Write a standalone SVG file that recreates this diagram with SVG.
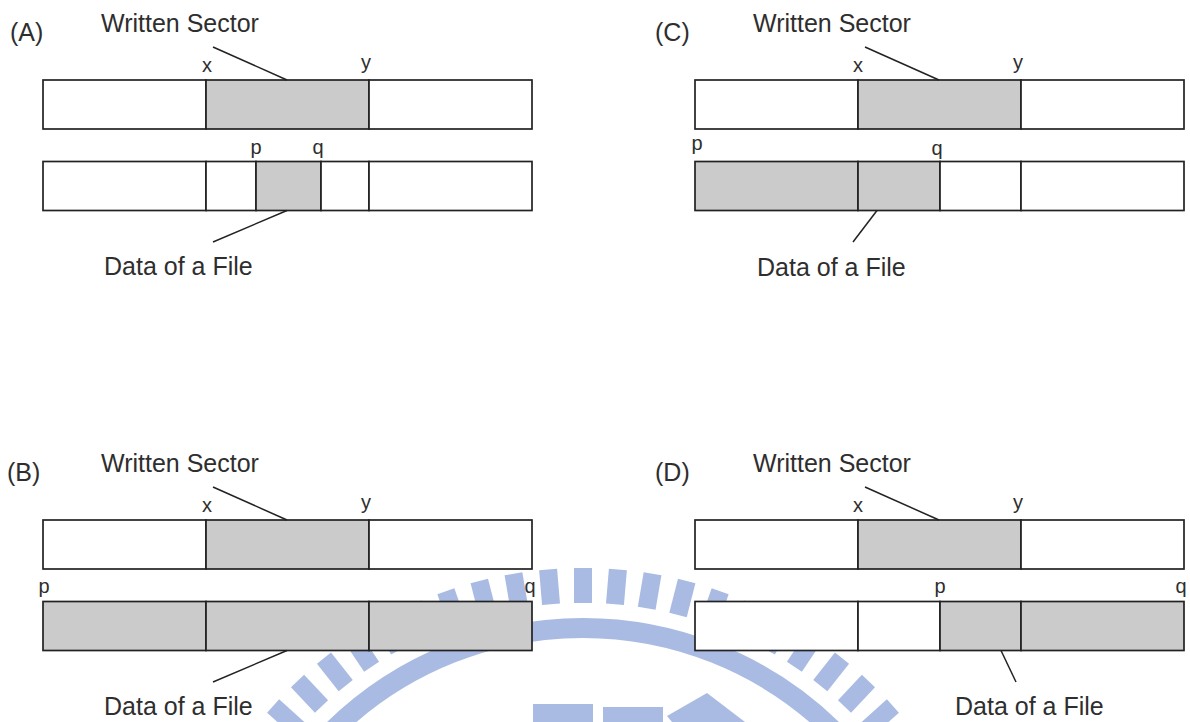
<svg xmlns="http://www.w3.org/2000/svg" xmlns:xlink="http://www.w3.org/1999/xlink" width="1190" height="722" viewBox="0 0 1190 722">
<defs>
<style>
.w{fill:#ffffff;stroke:#222;stroke-width:1.7}
.g{fill:#cbcbcb;stroke:#222;stroke-width:1.7}
.t{font-family:"Liberation Sans",Arial,sans-serif;font-size:25px;fill:#2e2e2e}
.s{font-family:"Liberation Sans",Arial,sans-serif;font-size:20px;fill:#2e2e2e;text-anchor:middle}
.ld{stroke:#222;stroke-width:1.5;fill:none}
.wm{fill:#a9bbe3}
</style>
<rect id="tick" x="574" y="568" width="18" height="35"/>
</defs>
<rect width="1190" height="722" fill="#ffffff"/>
<g id="watermark" class="wm">
<use xlink:href="#tick" transform="rotate(-67.2 583 985)"/>
<use xlink:href="#tick" transform="rotate(-62.4 583 985)"/>
<use xlink:href="#tick" transform="rotate(-57.6 583 985)"/>
<use xlink:href="#tick" transform="rotate(-52.8 583 985)"/>
<use xlink:href="#tick" transform="rotate(-48 583 985)"/>
<use xlink:href="#tick" transform="rotate(-43.2 583 985)"/>
<use xlink:href="#tick" transform="rotate(-38.4 583 985)"/>
<use xlink:href="#tick" transform="rotate(-33.6 583 985)"/>
<use xlink:href="#tick" transform="rotate(-28.8 583 985)"/>
<use xlink:href="#tick" transform="rotate(-24 583 985)"/>
<use xlink:href="#tick" transform="rotate(-19.2 583 985)"/>
<use xlink:href="#tick" transform="rotate(-14.4 583 985)"/>
<use xlink:href="#tick" transform="rotate(-9.6 583 985)"/>
<use xlink:href="#tick" transform="rotate(-4.8 583 985)"/>
<use xlink:href="#tick"/>
<use xlink:href="#tick" transform="rotate(4.8 583 985)"/>
<use xlink:href="#tick" transform="rotate(9.6 583 985)"/>
<use xlink:href="#tick" transform="rotate(14.4 583 985)"/>
<use xlink:href="#tick" transform="rotate(19.2 583 985)"/>
<use xlink:href="#tick" transform="rotate(24 583 985)"/>
<use xlink:href="#tick" transform="rotate(28.8 583 985)"/>
<use xlink:href="#tick" transform="rotate(33.6 583 985)"/>
<use xlink:href="#tick" transform="rotate(38.4 583 985)"/>
<use xlink:href="#tick" transform="rotate(43.2 583 985)"/>
<use xlink:href="#tick" transform="rotate(48 583 985)"/>
<use xlink:href="#tick" transform="rotate(52.8 583 985)"/>
<use xlink:href="#tick" transform="rotate(57.6 583 985)"/>
<use xlink:href="#tick" transform="rotate(62.4 583 985)"/>
<use xlink:href="#tick" transform="rotate(67.2 583 985)"/>
<circle cx="583" cy="985" r="357" fill="none" stroke="#a9bbe3" stroke-width="20"/>
<rect x="533" y="704" width="60" height="20"/>
<rect x="603" y="707" width="60" height="17"/>
<polygon points="707,693 745,722 672,722 667,716"/>
</g>
<g id="panelA">
<g id="A-top"><rect class="w" x="43" y="80" width="163" height="49"/><rect class="g" x="206" y="80" width="163" height="49"/><rect class="w" x="369" y="80" width="163" height="49"/></g>
<g id="A-bottom"><rect class="w" x="43" y="161.5" width="163" height="49"/><rect class="w" x="206" y="161.5" width="50" height="49"/><rect class="g" x="256" y="161.5" width="65" height="49"/><rect class="w" x="321" y="161.5" width="48" height="49"/><rect class="w" x="369" y="161.5" width="163" height="49"/></g>
<text class="t" x="10" y="41">(A)</text>
<text class="t" x="101" y="32">Written Sector</text>
<text class="s" x="207" y="72">x</text>
<text class="s" x="366" y="69">y</text>
<text class="s" x="256" y="154">p</text>
<text class="s" x="318" y="154">q</text>
<text class="t" x="104" y="275">Data of a File</text>
</g>
<g id="panelC">
<g id="C-top"><rect class="w" x="695" y="80" width="163" height="49"/><rect class="g" x="858" y="80" width="163" height="49"/><rect class="w" x="1021" y="80" width="163" height="49"/></g>
<g id="C-bottom"><rect class="g" x="695" y="161.5" width="163" height="49"/><rect class="g" x="858" y="161.5" width="82" height="49"/><rect class="w" x="940" y="161.5" width="81" height="49"/><rect class="w" x="1021" y="161.5" width="163" height="49"/></g>
<text class="t" x="655" y="41">(C)</text>
<text class="t" x="753" y="32">Written Sector</text>
<text class="s" x="858" y="72">x</text>
<text class="s" x="1018" y="69">y</text>
<text class="s" x="697" y="150">p</text>
<text class="s" x="937" y="155">q</text>
<text class="t" x="757" y="276">Data of a File</text>
</g>
<g id="panelB">
<g id="B-top"><rect class="w" x="43" y="520" width="163" height="49"/><rect class="g" x="206" y="520" width="163" height="49"/><rect class="w" x="369" y="520" width="163" height="49"/></g>
<g id="B-bottom"><rect class="g" x="43" y="601.5" width="163" height="49"/><rect class="g" x="206" y="601.5" width="163" height="49"/><rect class="g" x="369" y="601.5" width="163" height="49"/></g>
<text class="t" x="7" y="481">(B)</text>
<text class="t" x="101" y="472">Written Sector</text>
<text class="s" x="207" y="512">x</text>
<text class="s" x="366" y="509">y</text>
<text class="s" x="44" y="593">p</text>
<text class="s" x="530" y="593">q</text>
<text class="t" x="104" y="715">Data of a File</text>
</g>
<g id="panelD">
<g id="D-top"><rect class="w" x="695" y="520" width="163" height="49"/><rect class="g" x="858" y="520" width="163" height="49"/><rect class="w" x="1021" y="520" width="163" height="49"/></g>
<g id="D-bottom"><rect class="w" x="695" y="601.5" width="163" height="49"/><rect class="w" x="858" y="601.5" width="82" height="49"/><rect class="g" x="940" y="601.5" width="81" height="49"/><rect class="g" x="1021" y="601.5" width="163" height="49"/></g>
<text class="t" x="655" y="481">(D)</text>
<text class="t" x="753" y="472">Written Sector</text>
<text class="s" x="858" y="512">x</text>
<text class="s" x="1018" y="509">y</text>
<text class="s" x="940" y="593">p</text>
<text class="s" x="1181" y="593">q</text>
<text class="t" x="955" y="715">Data of a File</text>
</g>
<g id="connectors" class="ld">
<line x1="213" y1="47" x2="287" y2="80"/>
<line x1="287" y1="210.5" x2="213" y2="242"/>
<line x1="865" y1="47" x2="939" y2="80"/>
<line x1="877" y1="210.5" x2="853" y2="242"/>
<line x1="213" y1="487" x2="287" y2="520"/>
<line x1="287" y1="650.5" x2="213" y2="682"/>
<line x1="865" y1="487" x2="939" y2="520"/>
<line x1="1001" y1="650.5" x2="1016" y2="682"/>
</g>
</svg>
